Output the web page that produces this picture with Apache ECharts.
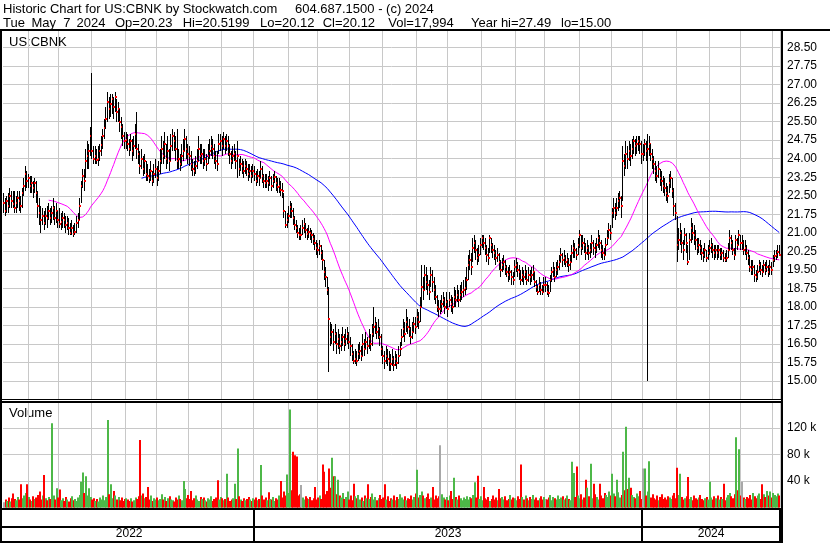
<!DOCTYPE html>
<html>
<head>
<meta charset="utf-8">
<title>US:CBNK Historic Chart</title>
<script src="https://cdn.jsdelivr.net/npm/echarts@6.0.0/dist/echarts.min.js"></script>
<style>
html,body{margin:0;padding:0;background:#ffffff;}
#chart{width:830px;height:543px;}
</style>
</head>
<body>
<div id="chart"></div>
<script>
// ================= DATA =================
const closes = [
22.2,21.9,22.3,22.1,22.5,22.3,22.15,22.0,22.2,22.4,
22.3,22.1,22.6,22.9,23.4,23.1,23.2,22.9,23.0,22.8,
23.0,22.6,22.1,21.8,21.5,21.7,21.4,21.7,21.6,21.9,
21.6,21.8,22.0,21.6,21.9,21.5,21.35,21.45,21.6,21.5,
21.3,21.4,21.2,21.0,21.2,20.95,21.05,21.4,21.5,22.1,
22.9,23.3,23.1,23.9,24.1,24.3,24.9,24.3,24.0,24.1,
23.95,24.0,24.3,24.55,24.9,25.25,25.6,26.3,26.0,26.2,
26.4,26.1,26.5,25.9,26.0,25.5,25.3,24.9,24.7,24.75,
24.6,24.4,24.7,24.3,24.5,25.0,24.4,24.2,23.7,24.0,
23.6,23.9,23.4,23.3,23.2,23.5,23.1,23.4,23.6,23.2,
23.5,23.9,24.4,24.1,24.6,24.0,24.3,23.9,24.5,24.9,
24.7,24.4,23.9,24.0,23.8,24.1,24.3,24.8,24.4,24.2,
24.1,23.8,23.6,23.5,23.7,23.9,24.4,24.1,24.2,23.9,
24.0,23.8,24.1,24.3,24.5,24.4,24.1,23.9,23.8,24.6,
24.7,24.5,24.8,24.5,24.7,24.5,24.2,23.9,24.1,24.2,
23.9,24.1,23.6,23.8,23.7,23.5,23.7,23.6,23.4,23.5,
23.3,23.5,23.4,23.1,23.3,23.2,23.6,23.3,23.1,23.0,
23.1,23.0,23.2,22.9,23.1,23.25,23.0,22.85,22.9,22.75,
22.7,21.9,21.3,21.5,21.7,22.05,21.9,21.6,21.3,21.2,
21.0,20.9,20.9,21.2,21.35,21.1,20.95,21.05,21.0,20.9,
20.75,20.6,20.4,20.3,20.45,20.2,19.9,19.4,19.2,18.7,
17.5,16.8,17.0,16.6,16.9,16.5,16.7,16.4,16.6,16.8,
16.5,16.7,16.9,16.6,16.4,16.1,15.8,15.9,15.8,16.1,
16.2,16.0,16.5,16.3,16.6,16.4,16.7,16.5,16.9,17.2,
17.3,17.0,17.1,16.8,16.3,16.0,15.8,16.0,15.9,15.8,
15.7,15.9,15.65,15.9,15.75,16.0,16.3,16.8,17.1,16.9,
17.4,17.2,17.1,16.8,17.0,17.3,17.2,17.6,17.4,18.0,
18.8,18.7,19.3,19.0,18.9,18.6,19.3,19.0,18.7,18.4,
18.0,17.9,17.9,18.1,18.3,18.0,18.2,17.9,18.3,18.1,
18.0,18.4,18.3,18.5,18.3,18.5,18.6,18.7,18.75,19.1,
19.7,19.9,19.6,20.4,20.6,20.3,20.0,20.1,20.5,20.8,
20.6,20.4,20.1,20.0,20.8,20.5,20.3,20.2,20.0,20.1,
19.8,19.5,19.7,19.8,19.6,19.4,19.3,19.4,19.2,19.1,
19.6,19.7,19.5,19.4,19.1,19.3,19.2,19.4,19.1,19.3,
19.2,19.3,19.4,19.0,18.8,18.6,18.9,18.7,18.6,18.9,
18.9,18.6,18.55,19.1,19.4,19.5,19.2,19.5,19.6,19.8,
20.1,19.9,20.0,19.8,19.9,19.7,19.8,20.2,20.4,20.3,
20.1,20.5,20.9,20.4,20.6,20.5,20.2,20.4,20.2,20.3,
20.6,20.4,20.3,20.5,20.8,20.6,20.3,20.2,20.1,20.5,
20.8,21.1,21.0,21.8,22.0,21.8,22.0,22.3,22.4,22.1,
23.9,23.7,24.2,24.0,24.3,24.1,24.4,24.7,24.5,24.6,
24.7,24.6,24.2,24.2,24.6,24.3,24.4,24.6,24.2,24.0,
23.8,23.5,23.3,23.6,23.2,23.1,22.9,22.8,22.6,22.5,
23.0,23.2,22.7,22.1,21.8,20.5,20.7,21.0,20.6,20.3,
20.9,20.6,19.8,20.7,21.2,21.0,20.9,20.7,20.4,20.5,
20.4,20.2,20.1,20.3,20.0,20.2,20.4,20.5,20.3,20.2,
20.3,20.2,20.3,20.1,20.2,20.0,19.9,20.0,20.3,20.8,
20.6,20.3,20.1,20.7,20.5,20.9,20.6,20.6,20.3,20.4,
20.2,20.0,19.6,19.5,19.6,19.3,19.2,19.4,19.7,19.5,
19.4,19.7,19.5,19.6,19.4,19.6,19.5,19.9,20.05,20.1,20.23,20.12
];
const highs = [
22.6,22.4,22.5,22.6,22.8,22.7,22.7,22.7,22.5,22.7,
22.7,22.5,22.8,23.2,23.7,23.5,23.4,23.3,23.3,23.1,
23.2,23.1,22.7,22.4,22.1,22.0,21.9,22.0,22.1,22.2,
22.0,22.1,22.4,22.1,22.2,21.9,22.0,21.8,21.9,21.8,
21.7,21.7,21.6,21.4,21.5,21.3,21.4,21.7,21.8,22.4,
23.1,23.6,23.6,24.4,24.7,24.6,25.3,27.47,24.5,24.5,
24.4,24.5,24.6,24.9,25.2,25.6,26.1,26.7,26.5,26.6,
26.6,26.5,26.7,26.4,26.3,26.0,25.7,25.4,25.1,25.1,
25.0,24.8,25.0,24.8,24.9,25.4,25.9,24.6,24.3,24.4,
24.1,24.2,23.9,23.8,23.6,23.9,23.5,23.8,24.0,23.7,
23.9,24.4,24.9,24.7,25.1,24.6,24.9,24.4,25.0,25.2,
25.1,24.9,25.2,24.4,24.2,24.6,24.8,25.2,24.9,24.6,
24.5,24.3,24.0,23.9,24.1,24.4,24.9,24.6,24.6,24.4,
24.4,24.2,24.6,24.8,24.9,24.8,24.6,24.3,24.3,25.0,
25.0,24.9,25.1,24.9,25.0,24.9,24.6,24.3,24.5,24.6,
24.3,24.7,24.0,24.1,24.0,23.9,24.0,23.9,23.8,23.8,
23.7,23.8,23.7,23.5,23.6,23.5,23.9,23.7,23.4,23.4,
23.4,23.3,23.5,23.3,23.4,23.5,23.3,23.2,23.2,23.1,
23.0,22.6,21.9,21.8,22.1,22.3,22.2,22.0,21.7,21.5,
21.3,21.2,21.3,21.5,21.6,21.4,21.2,21.3,21.2,21.1,
21.0,20.9,20.7,20.6,20.7,20.5,20.3,19.9,19.6,19.2,
18.8,17.4,17.3,17.1,17.3,17.0,17.1,16.9,16.9,17.2,
16.9,17.1,17.2,17.0,16.8,16.5,16.2,16.3,16.2,16.5,
16.6,16.4,16.9,16.7,17.0,16.8,17.1,16.9,17.3,18.0,
17.6,17.4,17.5,17.2,16.9,16.4,16.2,16.4,16.3,16.2,
16.1,16.3,16.0,16.2,16.1,16.4,16.6,17.1,17.5,17.4,
17.9,17.6,17.5,17.2,17.4,17.6,17.6,17.9,17.8,18.4,
19.7,19.2,19.7,19.6,19.3,19.1,19.6,19.5,19.2,18.9,
18.5,18.3,18.3,18.5,18.6,18.4,18.6,18.3,18.6,18.5,
18.4,18.8,18.7,18.9,18.7,18.9,19.0,19.1,19.2,19.6,
20.1,20.3,20.2,20.8,20.9,20.7,20.4,20.5,20.8,20.9,
20.9,20.8,20.5,20.4,20.9,20.8,20.6,20.5,20.3,20.4,
20.2,19.9,20.0,20.1,19.9,19.7,19.6,19.7,19.5,19.4,
19.9,20.0,19.8,19.7,19.5,19.6,19.5,19.7,19.5,19.6,
19.5,19.6,19.7,19.4,19.1,18.9,19.2,19.0,18.9,19.2,
19.2,19.0,18.9,19.3,19.6,19.8,19.6,19.8,19.9,20.1,
20.4,20.2,20.3,20.1,20.2,20.0,20.1,20.5,20.7,20.6,
20.4,20.8,21.1,20.9,20.9,20.8,20.6,20.7,20.5,20.6,
20.9,20.7,20.6,20.8,21.1,20.9,20.7,20.5,20.4,20.8,
21.1,21.4,21.3,22.0,22.4,22.2,22.4,22.6,22.7,22.5,
24.5,24.2,24.7,24.5,24.7,24.6,24.8,24.9,24.8,24.9,
24.9,24.9,24.7,24.6,24.8,24.7,25.0,24.9,24.6,24.4,
24.1,23.9,23.7,23.9,23.6,23.5,23.3,23.2,23.0,22.9,
23.4,23.5,23.2,22.8,22.2,21.7,21.2,21.4,21.1,20.7,
21.2,21.0,20.5,21.0,21.6,21.4,21.3,21.1,20.8,20.8,
20.7,20.5,20.4,20.6,20.3,20.5,20.7,20.8,20.6,20.5,
20.5,20.5,20.5,20.4,20.4,20.3,20.2,20.3,20.6,21.1,
20.9,20.7,20.4,20.9,20.8,21.1,20.9,20.9,20.7,20.7,
20.5,20.3,20.1,19.9,19.9,19.7,19.5,19.7,19.9,19.8,
19.7,19.9,19.8,19.9,19.7,19.9,19.8,20.1,20.3,20.3,20.5,20.52
];
const lows = [
21.8,21.7,21.8,21.8,22.0,22.0,22.0,21.8,21.8,22.0,
21.9,21.8,22.0,22.5,22.7,22.8,22.8,22.6,22.6,22.4,
22.6,22.2,21.6,21.3,21.0,21.3,21.1,21.3,21.2,21.5,
21.3,21.4,21.5,21.3,21.4,21.2,21.2,21.1,21.2,21.2,
21.0,21.1,20.9,20.9,20.9,20.85,20.9,21.0,21.2,21.5,
22.2,22.8,22.7,23.2,23.6,23.6,24.1,24.0,23.8,23.8,
23.8,23.7,23.9,24.1,24.4,24.8,25.2,25.5,25.6,25.7,
25.8,25.6,25.9,25.5,25.5,25.1,24.8,24.5,24.4,24.4,
24.3,24.1,24.3,23.9,24.1,24.4,24.0,23.8,23.4,23.6,
23.3,23.4,23.1,23.1,23.0,23.1,22.9,23.0,23.2,22.9,
23.1,23.4,23.8,23.8,24.0,23.6,23.8,23.5,23.9,24.3,
24.3,23.9,23.6,23.6,23.5,23.7,23.9,24.3,24.0,23.8,
23.7,23.5,23.3,23.3,23.4,23.6,23.9,23.8,23.8,23.6,
23.7,23.5,23.8,24.0,24.1,24.0,23.8,23.6,23.5,24.2,
24.3,24.1,24.4,24.2,24.3,24.1,23.8,23.6,23.8,23.9,
23.6,23.2,23.3,23.5,23.4,23.2,23.4,23.3,23.1,23.2,
23.0,23.2,23.1,22.9,23.0,22.9,23.2,23.0,22.8,22.8,
22.8,22.7,22.9,22.7,22.8,23.0,22.7,22.6,22.6,22.5,
22.4,21.6,21.2,21.2,21.4,21.6,21.6,21.3,21.1,21.0,
20.8,20.7,20.7,20.9,21.0,20.8,20.7,20.8,20.7,20.6,
20.5,20.3,20.1,20.0,20.1,19.9,19.5,19.1,18.8,18.5,
15.35,16.4,16.5,16.2,16.5,16.1,16.3,16.1,16.2,16.4,
16.2,16.4,16.5,16.3,16.0,15.8,15.7,15.7,15.6,15.8,
15.9,15.8,16.0,16.0,16.3,16.1,16.3,16.2,16.4,16.8,
16.9,16.7,16.7,16.4,16.0,15.7,15.5,15.7,15.6,15.4,
15.4,15.6,15.4,15.6,15.5,15.7,16.0,16.4,16.8,16.6,
17.0,16.9,16.8,16.5,16.7,17.0,16.9,17.2,17.1,17.4,
18.0,18.3,18.7,18.7,18.5,18.3,18.8,18.6,18.3,18.1,
17.8,17.6,17.7,17.8,18.0,17.7,17.9,17.6,18.0,17.8,
17.7,18.0,18.0,18.2,18.0,18.2,18.3,18.4,18.5,18.7,
19.1,19.5,19.3,19.8,20.2,19.9,19.7,19.8,20.1,20.4,
20.3,20.1,19.8,19.7,20.2,20.2,20.0,19.9,19.7,19.8,
19.5,19.2,19.4,19.5,19.3,19.2,19.0,19.1,18.9,18.9,
19.2,19.4,19.2,19.1,18.9,19.0,18.9,19.1,18.9,19.0,
18.9,19.0,19.1,18.8,18.6,18.5,18.6,18.5,18.5,18.6,
18.6,18.5,18.4,18.6,19.0,19.2,19.0,19.2,19.3,19.5,
19.8,19.6,19.7,19.6,19.6,19.4,19.5,19.8,20.0,20.0,
19.9,20.1,20.4,20.1,20.3,20.2,19.9,20.1,19.9,20.0,
20.2,20.1,20.0,20.2,20.4,20.3,20.0,19.9,19.9,20.1,
20.5,20.8,20.7,21.2,21.6,21.5,21.7,21.9,22.0,21.6,
22.3,23.3,23.6,23.6,23.9,23.7,24.0,24.2,24.1,24.2,
24.3,24.2,23.8,23.9,24.1,23.9,15.0,24.1,23.9,23.6,
23.4,23.1,23.0,23.2,22.9,22.7,22.6,22.5,22.3,22.2,
22.6,22.8,22.4,21.7,21.5,19.8,20.3,20.5,20.2,19.9,
20.5,20.2,19.7,19.9,20.6,20.7,20.5,20.3,20.1,20.2,
20.1,19.9,19.8,20.0,19.8,19.9,20.1,20.2,20.0,19.9,
20.0,19.9,20.0,19.9,19.9,19.8,19.8,19.8,20.0,20.3,
20.3,20.1,19.9,20.1,20.3,20.5,20.3,20.3,20.1,20.1,
19.9,19.7,19.4,19.3,19.3,19.0,19.0,19.1,19.4,19.3,
19.2,19.4,19.3,19.4,19.2,19.3,19.3,19.6,19.8,19.9,20.0,20.12
];
// volume in thousands of shares
const volumesK = [
8,12,10,15,9,14,21,13,11,16,
12,35,14,18,22,35,16,12,10,17,
13,15,19,24,12,18,49,14,11,16,
13,127,18,12,29,15,27,11,14,10,
16,12,9,14,17,11,13,10,15,19,
39,53,22,47,18,29,16,12,14,10,
13,9,15,12,18,11,16,132,20,35,
14,25,18,12,16,11,15,10,13,14,
12,10,14,9,11,15,13,17,102,18,
21,14,16,31,12,18,10,14,12,15,
11,13,20,12,16,10,14,17,12,11,
9,15,12,18,13,11,40,28,14,19,
13,25,11,14,18,12,10,16,13,15,
11,9,14,12,17,10,13,15,41,12,
16,14,11,13,51,15,10,12,14,36,
13,89,17,12,10,14,11,13,16,12,
10,14,12,15,11,13,64,18,12,15,
11,23,13,12,16,10,14,12,18,40,
15,24,18,50,22,148,26,84,79,77,
18,20,34,15,12,17,14,13,16,11,
14,31,12,15,18,13,65,54,20,25,
59,30,75,47,47,20,42,18,15,22,
13,16,24,12,18,11,36,17,14,19,
12,15,10,18,14,35,13,16,21,12,
16,11,14,19,13,15,35,12,17,10,
14,12,18,11,16,13,20,15,12,17,
11,14,13,18,12,16,21,57,15,19,
24,18,14,16,21,13,15,31,12,18,
14,17,94,20,15,12,16,11,18,25,
13,45,16,12,18,14,11,15,13,17,
12,16,14,19,38,15,48,13,17,11,
31,14,12,16,10,13,18,12,15,11,
28,14,16,12,17,11,13,19,12,15,
14,11,17,13,65,16,12,18,14,11,
16,13,19,12,15,11,14,17,12,16,
13,12,15,19,11,16,14,12,18,13,
15,17,12,14,18,13,11,69,52,16,
62,18,14,20,12,15,42,30,17,66,
14,36,20,16,12,36,18,14,22,19,
16,24,18,51,21,17,42,23,15,19,
84,26,122,28,45,30,19,16,14,21,
17,25,13,59,59,18,24,70,15,20,
14,12,18,11,16,20,13,15,12,17,
15,13,18,22,14,60,19,51,16,12,
14,17,46,13,16,11,18,14,12,15,
19,13,11,14,16,12,39,15,12,17,
14,18,12,16,13,36,11,15,19,22,
17,14,20,106,26,88,18,39,15,13,
16,14,19,12,22,17,14,18,21,13,
35,20,16,25,18,24,15,22,19,17,21,18
];
// bar index where each month's grid line sits (Jun 2022 ... May 2024)
const monthStartIdx = [16,36,57,79,99,120,141,162,184,203,224,245,267,287,309,331,350,372,393,413,435,456,476,497];
const yearStartIdx = [162, 413];
const yearLabels = ['2022', '2023', '2024'];
const yearLabelIdx = [81, 287, 457];
const priceTickStep = 0.75;
const volumeTickStepK = 40;
const maFastPeriod = 30;
const maSlowPeriod = 90;
const titleLine1 = [['Historic Chart for US:CBNK by', 3], ['Stockwatch.com', 182.7], ['604.687.1500 - (c) 2024', 295]];
const titleLine2 = [['Tue', 3], ['May', 31.5], ['7', 63.3], ['2024', 76.5], ['Op=20.23', 115], ['Hi=20.5199', 182.7], ['Lo=20.12', 260], ['Cl=20.12', 322.7], ['Vol=17,994', 388.3], ['Year hi=27.49', 471], ['lo=15.00', 561]];

// ================= BUILD =================
const N = closes.length;
const cats = closes.map((_, i) => String(i));
function sma(arr, n) {
  const out = [];
  let s = 0;
  for (let i = 0; i < arr.length; i++) {
    s += arr[i];
    if (i >= n) s -= arr[i - n];
    out.push(i >= n - 1 ? +(s / n).toFixed(4) : '-');
  }
  return out;
}
const maFast = sma(closes, maFastPeriod);
const maSlow = sma(closes, maSlowPeriod);
const GREEN = '#4db848', RED = '#ff0000', GRAY = '#a8a8a8';
const volColors = volumesK.map((v, i) => i === 0 ? GRAY : (closes[i] > closes[i - 1] ? GREEN : (closes[i] < closes[i - 1] ? RED : GRAY)));
const ohlcData = closes.map((c, i) => [i, highs[i], lows[i], c]);
const volData = volumesK.map((v, i) => [i, v]);

const FONT = '"Liberation Sans", Arial, sans-serif';
const GRIDC = '#c8c8c8';

function renderOhlc(params, api) {
  const i = api.value(0);
  const pH = api.coord([i, api.value(1)]);
  const pL = api.coord([i, api.value(2)]);
  const pC = api.coord([i, api.value(3)]);
  const x = Math.floor(pH[0]);
  const yt = Math.round(pH[1]);
  const yb = Math.round(pL[1]);
  return {
    type: 'group',
    children: [
      { type: 'rect', shape: { x: x, y: yt, width: 1, height: Math.max(1, yb - yt) }, style: { fill: '#000' } },
      { type: 'rect', shape: { x: x, y: Math.round(pC[1]) - 1, width: 2, height: 2 }, style: { fill: RED } }
    ]
  };
}
function renderVol(params, api) {
  const i = api.value(0);
  const pT = api.coord([i, api.value(1)]);
  const pB = api.coord([i, 0]);
  const x = Math.round(pT[0] - 0.8);
  return { type: 'rect', shape: { x: x, y: pT[1], width: 2, height: pB[1] - pT[1] }, style: { fill: volColors[i] } };
}

function textEl(str, x, y) {
  return { type: 'text', x: x, y: y, silent: true, style: { text: str, font: '13px ' + FONT, fill: '#000', align: 'left', verticalAlign: 'middle', textAlign: 'left', textVerticalAlign: 'middle' } };
}
function rectEl(x, y, w, h) {
  return { type: 'rect', silent: true, shape: { x: x, y: y, width: w, height: h }, style: { fill: '#000' }, z: 100 };
}
const graphics = [];
titleLine1.forEach(t => graphics.push(textEl(t[0], t[1], 9)));
titleLine2.forEach(t => graphics.push(textEl(t[0], t[1], 23)));
graphics.push(textEl('US:CBNK', 9, 42));
graphics.push(textEl('Volume', 9, 413));
// frame lines
graphics.push(rectEl(0, 29, 830, 2));
graphics.push(rectEl(0, 29, 2, 514));
graphics.push(rectEl(781, 29, 2, 514));
graphics.push(rectEl(0, 399, 783, 1));
graphics.push(rectEl(0, 401, 783, 2));
graphics.push(rectEl(0, 508, 783, 2));
graphics.push(rectEl(0, 526, 783, 2));
graphics.push(rectEl(0, 541, 783, 2));

const axisLabelBase = { color: '#000', fontFamily: FONT, fontSize: 12 };

const option = {
  animation: false,
  backgroundColor: '#ffffff',
  grid: [
    { left: 3, right: 50, top: 29, height: 370.6, outerBoundsMode: 'none', containLabel: false },
    { left: 3, right: 50, top: 401.5, height: 106, outerBoundsMode: 'none', containLabel: false },
    { left: 3, right: 50, top: 509, height: 33, outerBoundsMode: 'none', containLabel: false }
  ],
  xAxis: [
    { gridIndex: 0, type: 'category', data: cats, boundaryGap: true,
      axisLine: { show: false }, axisTick: { show: false }, axisLabel: { show: false },
      splitLine: { show: true, interval: (i) => monthStartIdx.indexOf(i) >= 0, lineStyle: { color: GRIDC, width: 1 } } },
    { gridIndex: 1, type: 'category', data: cats, boundaryGap: true,
      axisLine: { show: false }, axisTick: { show: false }, axisLabel: { show: false },
      splitLine: { show: true, interval: (i) => monthStartIdx.indexOf(i) >= 0, lineStyle: { color: GRIDC, width: 1 } } },
    { gridIndex: 2, type: 'category', data: cats, boundaryGap: true, position: 'bottom',
      axisLine: { show: false }, axisTick: { show: false },
      axisLabel: Object.assign({}, axisLabelBase, { show: true, inside: true, margin: 2, interval: (i) => yearLabelIdx.indexOf(i) >= 0,
        formatter: (v, i) => { const k = yearLabelIdx.indexOf(i); return k >= 0 ? yearLabels[k] : ''; } }),
      splitLine: { show: true, interval: (i) => yearStartIdx.indexOf(i) >= 0, lineStyle: { color: '#000', width: 2 } } }
  ],
  yAxis: [
    { gridIndex: 0, type: 'value', position: 'right', min: 14.25, max: 29.25, interval: priceTickStep,
      axisLine: { show: false }, axisTick: { show: false },
      axisLabel: Object.assign({}, axisLabelBase, { margin: 7, showMinLabel: false, showMaxLabel: false, formatter: (v) => v.toFixed(2) }),
      splitLine: { show: true, lineStyle: { color: GRIDC, width: 1 } } },
    { gridIndex: 1, type: 'value', position: 'right', min: 0, max: 160, interval: volumeTickStepK,
      axisLine: { show: false }, axisTick: { show: false },
      axisLabel: Object.assign({}, axisLabelBase, { margin: 7, showMinLabel: false, showMaxLabel: false, formatter: (v) => v + ' k' }),
      splitLine: { show: true, lineStyle: { color: GRIDC, width: 1 } } },
    { gridIndex: 2, type: 'value', show: false, min: 0, max: 1, splitLine: { show: false } }
  ],
  series: [
    { name: 'MA' + maSlowPeriod, type: 'line', xAxisIndex: 0, yAxisIndex: 0, data: maSlow, symbol: 'none', showSymbol: false,
      lineStyle: { color: '#0000ff', width: 1 }, itemStyle: { color: '#0000ff' }, z: 2, silent: true },
    { name: 'MA' + maFastPeriod, type: 'line', xAxisIndex: 0, yAxisIndex: 0, data: maFast, symbol: 'none', showSymbol: false,
      lineStyle: { color: '#ff00ff', width: 1 }, itemStyle: { color: '#ff00ff' }, z: 3, silent: true },
    { name: 'Price', type: 'custom', xAxisIndex: 0, yAxisIndex: 0, data: ohlcData, renderItem: renderOhlc,
      encode: { x: 0, y: [1, 2, 3] }, z: 4, silent: true },
    { name: 'Volume', type: 'custom', xAxisIndex: 1, yAxisIndex: 1, data: volData, renderItem: renderVol,
      encode: { x: 0, y: 1 }, z: 4, silent: true }
  ],
  graphic: { elements: graphics }
};

const chart = echarts.init(document.getElementById('chart'), null, { renderer: 'canvas' });
chart.setOption(option);
</script>
</body>
</html>
